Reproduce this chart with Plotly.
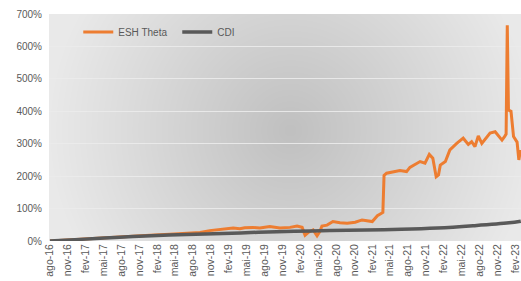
import base64, struct, zlib
import numpy as np
import plotly.graph_objects as go

# ---------------- data ----------------
esh_dates = [
    "2016-08-01", "2016-11-12", "2017-02-21", "2017-06-03", "2017-09-13", "2017-12-25",
    "2018-04-04", "2018-07-16", "2018-09-06", "2018-10-25", "2018-12-16", "2019-02-22",
    "2019-03-28", "2019-04-22", "2019-06-02", "2019-07-08", "2019-08-28", "2019-10-18",
    "2019-12-09", "2020-01-14", "2020-02-09", "2020-02-24", "2020-03-15", "2020-04-05",
    "2020-04-25", "2020-05-10", "2020-05-20", "2020-06-15", "2020-07-15", "2020-08-20",
    "2020-09-26", "2020-11-06", "2020-12-11", "2021-01-06", "2021-02-01", "2021-02-27",
    "2021-03-12", "2021-03-27", "2021-04-02", "2021-04-15", "2021-06-22", "2021-07-26",
    "2021-08-12", "2021-10-03", "2021-10-28", "2021-11-19", "2021-12-07", "2021-12-24",
    "2022-01-05", "2022-01-14", "2022-02-09", "2022-03-04", "2022-04-08", "2022-05-11",
    "2022-06-06", "2022-06-23", "2022-07-10", "2022-07-27", "2022-08-14", "2022-09-25",
    "2022-10-21", "2022-11-07", "2022-11-25", "2022-12-08", "2022-12-16", "2022-12-22",
    "2022-12-28", "2023-01-10", "2023-01-15", "2023-01-23", "2023-02-10", "2023-02-19",
    "2023-02-27", "2023-03-01",
]
esh_values = [
    0, 4, 8, 12, 15, 18,
    21, 23, 26, 32, 35, 40,
    38, 41, 42, 40, 45, 40,
    42, 46, 42, 18, 28, 34,
    16, 30, 46, 49, 60, 56,
    55, 58, 65, 62, 60, 78,
    83, 88, 202, 209, 217, 214,
    227, 245, 240, 267, 255, 198,
    204, 234, 245, 281, 301, 317,
    298, 306, 291, 324, 301, 333,
    337, 324, 311, 322, 330, 665,
    404, 400, 364, 322, 305, 250,
    280, 262,
]

cdi_dates = [
    "2016-08-01", "2016-12-31", "2017-06-30", "2017-12-31", "2018-06-30", "2018-12-31",
    "2019-06-30", "2019-12-31", "2020-06-30", "2020-12-31", "2021-06-30", "2021-12-31",
    "2022-06-30", "2022-12-31", "2023-03-01",
]
cdi_values = [0, 5, 11, 16, 20, 23, 27, 30, 32, 34, 36, 40, 47, 56, 61]

tick_dates = [
    "2016-08-01", "2016-11-01", "2017-02-01", "2017-05-01", "2017-08-01", "2017-11-01",
    "2018-02-01", "2018-05-01", "2018-08-01", "2018-11-01", "2019-02-01", "2019-05-01",
    "2019-08-01", "2019-11-01", "2020-02-01", "2020-05-01", "2020-08-01", "2020-11-01",
    "2021-02-01", "2021-05-01", "2021-08-01", "2021-11-01", "2022-02-01", "2022-05-01",
    "2022-08-01", "2022-11-01", "2023-02-01",
]
tick_labels = [
    "ago-16", "nov-16", "fev-17", "mai-17", "ago-17", "nov-17",
    "fev-18", "mai-18", "ago-18", "nov-18", "fev-19", "mai-19",
    "ago-19", "nov-19", "fev-20", "mai-20", "ago-20", "nov-20",
    "fev-21", "mai-21", "ago-21", "nov-21", "fev-22", "mai-22",
    "ago-22", "nov-22", "fev-23",
]
y_ticks = [0, 100, 200, 300, 400, 500, 600, 700]

# ---------------- radial gradient background (style only) ----------------
W, H = 472, 227
yy, xx = np.mgrid[0:H, 0:W]
cx, cy = 241.0, 116.0
d = np.sqrt((xx - cx) ** 2 + ((yy - cy) * 1.0) ** 2) / 240.0
d = np.clip(d, 0, 1)
c0, c1 = 192.0, 233.0
v = (c0 + (c1 - c0) * d).astype(np.uint8)
rgb = np.stack([v, v, v], axis=2)
raw = b"".join(b"\x00" + rgb[r].tobytes() for r in range(H))

def chunk(tag, data):
    c = struct.pack(">I", len(data)) + tag + data
    return c + struct.pack(">I", zlib.crc32(tag + data) & 0xFFFFFFFF)

png = b"\x89PNG\r\n\x1a\n" + chunk(b"IHDR", struct.pack(">IIBBBBB", W, H, 8, 2, 0, 0, 0)) \
      + chunk(b"IDAT", zlib.compress(raw, 9)) + chunk(b"IEND", b"")
bg_uri = "data:image/png;base64," + base64.b64encode(png).decode()

# ---------------- figure ----------------
FONT = "Liberation Sans"
fig = go.Figure()
fig.add_trace(go.Scatter(
    x=esh_dates, y=esh_values, mode="lines", name="ESH Theta",
    line=dict(color="#ED7D31", width=3),
))
fig.add_trace(go.Scatter(
    x=cdi_dates, y=cdi_values, mode="lines", name="CDI",
    line=dict(color="#595959", width=3.5, shape="spline"),
))

fig.add_layout_image(dict(
    source=bg_uri, xref="paper", yref="paper", x=0, y=1,
    sizex=1, sizey=1, xanchor="left", yanchor="top",
    sizing="stretch", layer="below",
))

fig.update_layout(
    width=521, height=281,
    margin=dict(l=49, r=0, t=14, b=40, autoexpand=False),
    paper_bgcolor="white",
    plot_bgcolor="rgba(0,0,0,0)",
    font=dict(family=FONT, size=10, color="#595959"),
    showlegend=True,
    legend=dict(
        orientation="h", x=0.062, y=0.985, xanchor="left", yanchor="top",
        bgcolor="rgba(0,0,0,0)", font=dict(size=10, color="#595959"),
        entrywidth=54, entrywidthmode="pixels",
    ),
    xaxis=dict(
        type="date", range=["2016-07-27", "2023-03-02"], automargin=False,
        tickvals=tick_dates, ticktext=tick_labels, tickangle=-90,
        showgrid=False, zeroline=False, showline=False, ticks="",
        tickfont=dict(size=10.5, color="#595959"),
    ),
    yaxis=dict(
        range=[0, 700], tickvals=y_ticks, ticktext=[f"{t}%" for t in y_ticks],
        automargin=False,
        showgrid=True, gridcolor="rgba(235,235,235,0.9)", gridwidth=1.2,
        zeroline=False, showline=False, ticks="",
        tickfont=dict(size=10, color="#595959"), ticklabelstandoff=6,
    ),
)

fig.write_html(
    "out.html",
    config={"displayModeBar": False},
    post_script="document.body.style.margin='0';document.body.style.padding='0';",
)
